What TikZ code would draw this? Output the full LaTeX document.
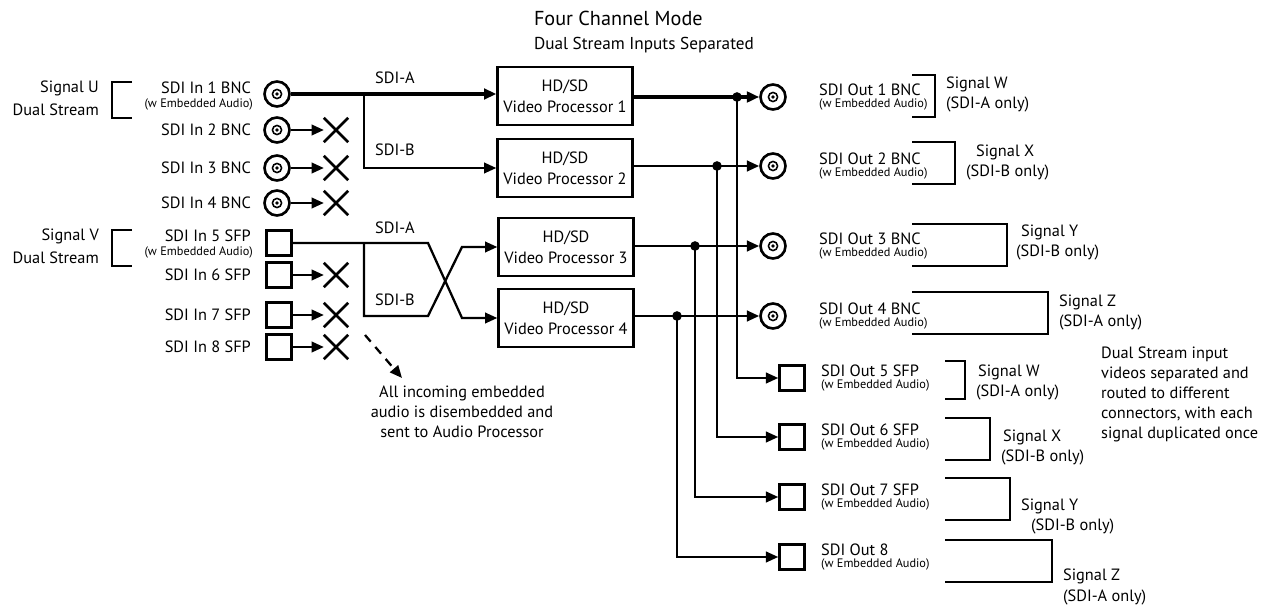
\documentclass[tikz,border=0pt]{standalone}
\usepackage{fontspec}
\setmainfont{PT Sans}
\usetikzlibrary{arrows.meta}
\begin{document}
\begin{tikzpicture}[x=0.02cm,y=-0.02cm,line width=1.3pt,
  lab/.style={font=\fontsize{9.3}{10}\selectfont,inner sep=0pt},
  sm/.style={font=\fontsize{7}{8}\selectfont,inner sep=0pt},
  ar/.style={-{Triangle[length=7pt,width=6pt]}},
  bnc/.style={circle,draw,minimum size=0.5cm,inner sep=0pt,line width=1.5pt},
  sfp/.style={rectangle,draw,minimum size=0.5cm,inner sep=0pt,line width=1.4pt},
  proc/.style={rectangle,draw,minimum width=2.66cm,minimum height=1.16cm,align=center,font=\fontsize{9.3}{12}\selectfont,line width=1.4pt},
  xm/.style={inner sep=0pt,minimum size=0.44cm},
  dot/.style={circle,fill,inner sep=0pt,minimum size=5.5pt}]
\useasboundingbox (0,0) rectangle (1276,615);
\node[font=\fontsize{11.5}{13}\selectfont,anchor=west] (t1) at (527,18) {Four Channel Mode};
\node[font=\fontsize{9.8}{11}\selectfont,anchor=west] (t2) at (527,45) {Dual Stream Inputs Separated};
% inputs
\foreach \i/\y in {1/94,2/130,3/168,4/203}{
  \node[bnc] (in\i) at (277,\y) {};
  \draw[line width=0.9pt] (277,\y) circle (2.6pt);
  \fill (277,\y) circle (1pt);
}
\foreach \i/\y in {5/243,6/275,7/315,8/347}{
  \node[sfp] (in\i) at (279,\y) {};
}
\node[lab,anchor=east] (l1) at (252,88) {SDI In 1 BNC};
\node[sm,anchor=east] (l1b) at (254,104) {(w Embedded Audio)};
\node[lab,anchor=east] (l2) at (252,130) {SDI In 2 BNC};
\node[lab,anchor=east] (l3) at (252,168) {SDI In 3 BNC};
\node[lab,anchor=east] (l4) at (252,203) {SDI In 4 BNC};
\node[lab,anchor=east] (l5) at (252,236) {SDI In 5 SFP};
\node[sm,anchor=east] (l5b) at (254,252) {(w Embedded Audio)};
\node[lab,anchor=east] (l6) at (252,275) {SDI In 6 SFP};
\node[lab,anchor=east] (l7) at (252,315) {SDI In 7 SFP};
\node[lab,anchor=east] (l8) at (252,347) {SDI In 8 SFP};
\foreach \i/\y in {2/130,3/168,4/203,6/275,7/315,8/347}{
  \node[xm] (x\i) at (336,\y) {};
  \draw[line width=1.5pt] (x\i.north west) -- (x\i.south east) (x\i.north east) -- (x\i.south west);
  \draw[ar] (in\i) -- (x\i.west);
}
% signal brackets
\draw (132,82) -- (112,82) -- (112,118) -- (132,118);
\node[lab,anchor=east] (su) at (100,88) {Signal U};
\node[lab,anchor=east] (su2) at (100,110) {Dual Stream};
\draw (132,230) -- (112,230) -- (112,266) -- (132,266);
\node[lab,anchor=east] (sv) at (100,236) {Signal V};
\node[lab,anchor=east] (sv2) at (100,258) {Dual Stream};
% processors
\node[proc] (p1) at (565,96) {HD/SD\\Video Processor 1};
\node[proc] (p2) at (565,168) {HD/SD\\Video Processor 2};
\node[proc] (p3) at (566,247) {HD/SD\\Video Processor 3};
\node[proc] (p4) at (566,318) {HD/SD\\Video Processor 4};
\coordinate (b1) at (364,94);
\draw[ar,line width=2pt] (in1) -- (p1.west |- in1);
\draw[ar] (b1) |- (p2.west);
\node[lab] (sa1) at (395,78) {SDI-A};
\node[lab] (sb1) at (395,150) {SDI-B};
\coordinate (b5) at (364,243);
\draw[ar] (in5) -- (428,243) -- (462,318) -- (p4.west);
\draw[ar] (b5) |- (428,316) -- (462,247) -- (p3.west);
\node[lab] (sa2) at (395,228) {SDI-A};
\node[lab] (sb2) at (395,300) {SDI-B};
\coordinate (d1) at (365,335);
\coordinate (d2) at (402,378);
\draw[dashed,dash pattern=on 5pt off 4pt,-{Triangle[length=7pt,width=6pt]}] (d1) -- (d2);
\node[lab,align=center,font=\fontsize{9.3}{11.3}\selectfont] (note1) at (462,412) {All incoming embedded\\audio is disembedded and\\sent to Audio Processor};
% outputs
\foreach \i/\y in {1/97,2/166,3/246,4/316}{
  \node[bnc] (o\i) at (773,\y) {};
  \draw[line width=0.9pt] (773,\y) circle (2.6pt);
  \fill (773,\y) circle (1pt);
}
\foreach \i/\y in {5/378,6/437,7/497,8/557}{
  \node[sfp] (o\i) at (792,\y) {};
}
\draw[ar,line width=1.8pt] (p1.east |- o1) -- (o1);
\draw[ar,line width=1.5pt] (p2.east |- o2) -- (o2);
\draw[ar,line width=1.5pt] (p3.east |- o3) -- (o3);
\draw[ar,line width=1.5pt] (p4.east |- o4) -- (o4);
\node[dot] (j1) at (737,97) {};
\node[dot] (j2) at (717,166) {};
\node[dot] (j3) at (695,246) {};
\node[dot] (j4) at (677,316) {};
\draw[ar] (j1.center) |- (o5);
\draw[ar] (j2.center) |- (o6);
\draw[ar] (j3.center) |- (o7);
\draw[ar] (j4.center) |- (o8);
\foreach \i/\y in {1/97,2/166,3/246,4/316}{
  \node[lab,anchor=west] (ol\i) at (818,\y-7) {SDI Out \i\ BNC};
  \node[sm,anchor=west] (os\i) at (818,\y+7) {(w Embedded Audio)};
}
\foreach \i/\y in {5/378,6/437,7/497}{
  \node[lab,anchor=west] (ol\i) at (820,\y-7) {SDI Out \i\ SFP};
  \node[sm,anchor=west] (os\i) at (820,\y+7) {(w Embedded Audio)};
}
\node[lab,anchor=west] (ol8) at (820,550) {SDI Out 8};
\node[sm,anchor=west] (os8) at (820,564) {(w Embedded Audio)};
% output brackets
\foreach \x/\ya/\yb/\xb in {
  935/75/117/912, 955/142/184/912, 1007/224/266/912, 1048/292/334/912,
  965/361/399/945, 990/418/460/945, 1010/478/520/945, 1052/540/582/945}{
  \draw (\xb,\ya) -- (\x,\ya) -- (\x,\yb) -- (\xb,\yb);
}
\node[lab,anchor=west] at (945,84) {Signal W};
\node[lab,anchor=west] at (945,104) {(SDI-A only)};
\node[lab,anchor=west] at (975,152) {Signal X};
\node[lab,anchor=west] at (965,172) {(SDI-B only)};
\node[lab,anchor=west] at (1020,232) {Signal Y};
\node[lab,anchor=west] at (1015,252) {(SDI-B only)};
\node[lab,anchor=west] at (1058,302) {Signal Z};
\node[lab,anchor=west] at (1058,322) {(SDI-A only)};
\node[lab,anchor=west] at (977,372) {Signal W};
\node[lab,anchor=west] at (975,392) {(SDI-A only)};
\node[lab,anchor=west] at (1002,437) {Signal X};
\node[lab,anchor=west] at (1000,457) {(SDI-B only)};
\node[lab,anchor=west] at (1020,506) {Signal Y};
\node[lab,anchor=west] at (1030,526) {(SDI-B only)};
\node[lab,anchor=west] at (1062,576) {Signal Z};
\node[lab,anchor=west] at (1062,597) {(SDI-A only)};
\node[lab,anchor=north west,align=left,font=\fontsize{9.3}{11.3}\selectfont] (side) at (1100,346) {Dual Stream input\\videos separated and\\routed to different\\connectors, with each\\signal duplicated once};
\end{tikzpicture}
\end{document}
